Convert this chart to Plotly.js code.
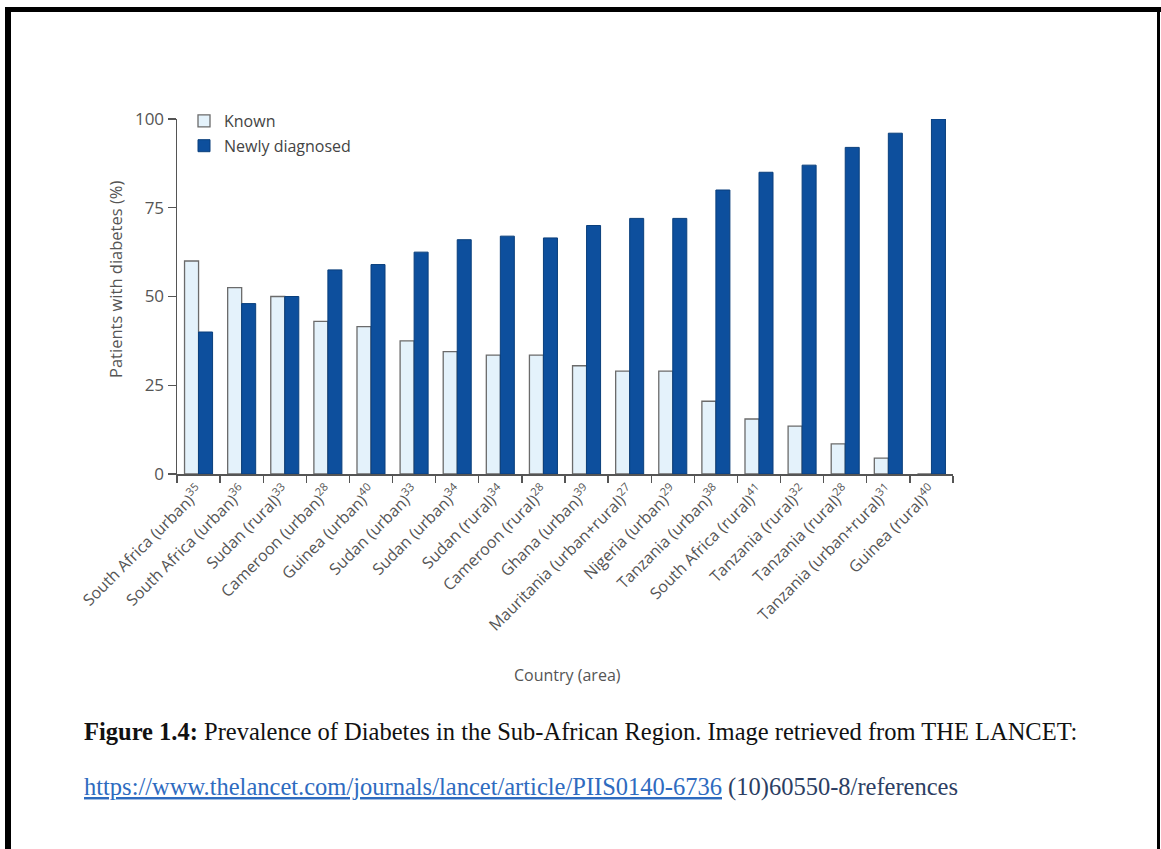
<!DOCTYPE html>
<html>
<head>
<meta charset="utf-8">
<script src="https://cdn.plot.ly/plotly-3.0.1.min.js"></script>
<style>
  html, body { margin: 0; padding: 0; background: #fff; }
  #chart { width: 1161px; height: 849px; }
</style>
</head>
<body>
<div id="chart"></div>
<script>
// Study sites (country and area) with their reference numbers
const sites = [
  "South Africa (urban)", "South Africa (urban)", "Sudan (rural)", "Cameroon (urban)",
  "Guinea (urban)", "Sudan (urban)", "Sudan (urban)", "Sudan (rural)", "Cameroon (rural)",
  "Ghana (urban)", "Mauritania (urban+rural)", "Nigeria (urban)", "Tanzania (urban)",
  "South Africa (rural)", "Tanzania (rural)", "Tanzania (rural)", "Tanzania (urban+rural)",
  "Guinea (rural)"
];
const refs = ["35", "36", "33", "28", "40", "33", "34", "34", "28", "39", "27", "29", "38", "41", "32", "28", "31", "40"];

// Share of patients with diabetes (%)
const known = [60, 52.5, 50, 43, 41.5, 37.5, 34.5, 33.5, 33.5, 30.5, 29, 29, 20.5, 15.5, 13.5, 8.5, 4.5, 0];
const newlyDiagnosed = [40, 48, 50, 57.5, 59, 62.5, 66, 67, 66.5, 70, 72, 72, 80, 85, 87, 92, 96, 100];

const yTicks = [0, 25, 50, 75, 100];

// unique category keys, labelled with superscript references
const keys = sites.map((s, i) => i + ":" + s);
const labels = sites.map((s, i) => s + "<sup>" + refs[i] + "</sup>");

// page geometry (pixels)
const W = 1161, H = 849;
const M = { l: 177, r: 208, t: 119, b: 375 };
const plotW = W - M.l - M.r, plotH = H - M.t - M.b;
const px = x => (x - M.l) / plotW;
const py = y => (H - M.b - y) / plotH;

const grey = "#555555";
const sans = "Open Sans, Liberation Sans, sans-serif";
const serif = "Liberation Serif, Times New Roman, serif";

const traces = [
  {
    type: "bar", name: "Known", x: keys, y: known,
    legendgroup: "a",
    marker: { color: "#e4f2fb", line: { color: "#6b6b6b", width: 1.3 } }
  },
  {
    type: "bar", name: "Newly diagnosed", x: keys, y: newlyDiagnosed,
    legendgroup: "b",
    marker: { color: "#0d4f9d", line: { color: "#0a3f7c", width: 1 } }
  }
];

const layout = {
  width: W, height: H,
  margin: M,
  paper_bgcolor: "#ffffff", plot_bgcolor: "#ffffff",
  barmode: "group", bargap: 0.35, bargroupgap: 0,
  font: { family: sans, color: grey, size: 14 },
  showlegend: true,
  legend: {
    x: px(184), y: py(104), xanchor: "left", yanchor: "top",
    bgcolor: "rgba(0,0,0,0)", font: { size: 16, color: "#444" },
    tracegroupgap: 1, itemclick: false
  },
  xaxis: {
    type: "category", tickvals: keys, ticktext: labels,
    tickangle: -45, tickson: "boundaries",
    ticks: "outside", ticklen: 7, tickcolor: grey, tickwidth: 1.3,
    showline: true, linecolor: grey, linewidth: 1.5,
    showgrid: false, zeroline: false,
    tickfont: { family: sans, size: 16, color: grey }
  },
  yaxis: {
    range: [0, 100], tickvals: yTicks,
    ticks: "outside", ticklen: 8, tickcolor: grey, tickwidth: 1.3,
    showline: true, linecolor: grey, linewidth: 1.5,
    showgrid: false, zeroline: false,
    tickfont: { family: sans, size: 17, color: grey }
  },
  annotations: [
    {
      text: "Patients with diabetes (%)", textangle: -90,
      xref: "paper", yref: "paper", x: px(115), y: py(280),
      xanchor: "center", yanchor: "middle", showarrow: false,
      font: { family: sans, size: 16.5, color: grey }
    },
    {
      text: "Country (area)",
      xref: "paper", yref: "paper", x: px(567), y: py(675),
      xanchor: "center", yanchor: "middle", showarrow: false,
      font: { family: sans, size: 16, color: grey }
    },
    {
      text: "<b>Figure 1.4:</b> Prevalence of Diabetes in the Sub-African Region. Image retrieved from THE LANCET:",
      xref: "paper", yref: "paper", x: px(82), y: py(731),
      xanchor: "left", yanchor: "middle", showarrow: false,
      font: { family: serif, size: 24.5, color: "#111" }
    },
    {
      text: "<span style=\"color:#2e6bbf;text-decoration:underline\">https://www.thelancet.com/journals/lancet/article/PIIS0140-6736</span> (10)60550-8/references",
      xref: "paper", yref: "paper", x: px(82), y: py(787),
      xanchor: "left", yanchor: "middle", showarrow: false,
      font: { family: serif, size: 24.5, color: "#2c3e63" }
    }
  ],
  shapes: [
    // page frame: top, left and right edges
    { type: "line", xref: "paper", yref: "paper", x0: px(5), x1: px(1161), y0: py(9.5), y1: py(9.5),
      line: { color: "#000", width: 5 } },
    { type: "line", xref: "paper", yref: "paper", x0: px(8), x1: px(8), y0: py(7), y1: py(849),
      line: { color: "#000", width: 6 } },
    { type: "line", xref: "paper", yref: "paper", x0: px(1158.5), x1: px(1158.5), y0: py(7), y1: py(849),
      line: { color: "#000", width: 3 } }
  ]
};

Plotly.newPlot("chart", traces, layout, { displayModeBar: false, staticPlot: true });
</script>
</body>
</html>
